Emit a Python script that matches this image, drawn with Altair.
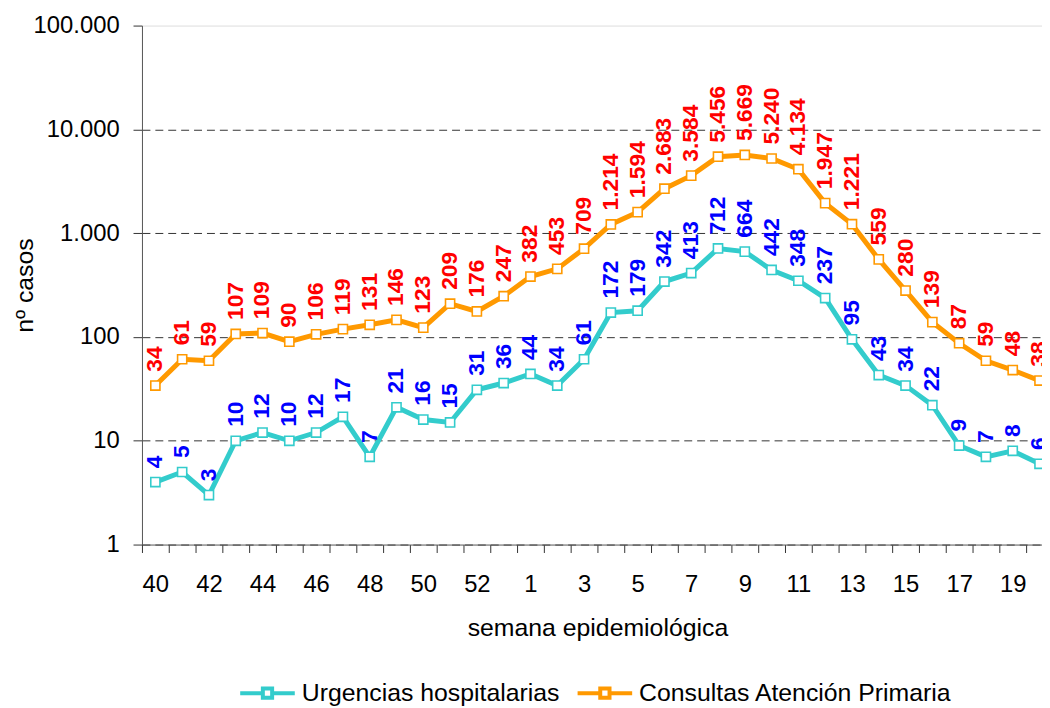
import altair as alt
import pandas as pd

# ---- data -------------------------------------------------------------
weeks = ["40", "41", "42", "43", "44", "45", "46", "47", "48", "49", "50", "51", "52", "53",
         "1", "2", "3", "4", "5", "6", "7", "8", "9", "10", "11", "12", "13", "14", "15",
         "16", "17", "18", "19", "20"]
x_tick_labels = ["40", "42", "44", "46", "48", "50", "52", "1", "3", "5", "7", "9",
                 "11", "13", "15", "17", "19"]

urgencias = [4, 5, 3, 10, 12, 10, 12, 17, 7, 21, 16, 15, 31, 36, 44, 34, 61, 172, 179,
             342, 413, 712, 664, 442, 348, 237, 95, 43, 34, 22, 9, 7, 8, 6]
primaria = [34, 61, 59, 107, 109, 90, 106, 119, 131, 146, 123, 209, 176, 247, 382, 453,
            709, 1214, 1594, 2683, 3584, 5456, 5669, 5240, 4134, 1947, 1221, 559, 280,
            139, 87, 59, 48, 38]

series_names = ["Urgencias hospitalarias", "Consultas Atención Primaria"]
line_colors = ["#33CCCC", "#FF9900"]
label_colors = ["#0000FF", "#FF0000"]

y_tick_values = [1, 10, 100, 1000, 10000, 100000]
y_tick_labels = ["1", "10", "100", "1.000", "10.000", "100.000"]


def fmt(v):
    return f"{v:,}".replace(",", ".")


rows = []
for name, vals in zip(series_names, [urgencias, primaria]):
    for w, v in zip(weeks, vals):
        rows.append({"semana": w, "serie": name, "casos": v, "etiqueta": fmt(v)})
df = pd.DataFrame(rows)

FONT = "Liberation Sans"

# ---- encodings --------------------------------------------------------
x_label_expr = "indexof([" + ",".join(f"'{s}'" for s in x_tick_labels) + "], datum.value) >= 0 ? datum.value : ''"
y_label_expr = " : ".join(f"datum.value == {v} ? '{l}'" for v, l in zip(y_tick_values, y_tick_labels)) + " : ''"

x_enc = alt.X(
    "semana:N",
    sort=weeks,
    scale=alt.Scale(type="band", range=[0, 918], paddingInner=0, paddingOuter=0),
    axis=alt.Axis(
        title="semana epidemiológica",
        labelExpr=x_label_expr,
        labelAngle=0,
        labelFontSize=24,
        labelColor="black",
        labelPadding=20,
        tickBand="extent",
        tickSize=8,
        tickColor="#333333",
        domainColor="#555555",
        grid=False,
        titleFontSize=25,
        titleFontWeight="normal",
        titleColor="black",
        titleX=459,
        titleY=92,
        titleBaseline="alphabetic",
    ),
)

y_enc = alt.Y(
    "casos:Q",
    scale=alt.Scale(type="log", domain=[1, 100000], nice=False),
    axis=alt.Axis(
        title="nº casos",
        values=y_tick_values,
        labelExpr=y_label_expr,
        labelFontSize=24,
        labelColor="black",
        labelPadding=14,
        tickSize=9,
        tickColor="#333333",
        domainColor="#555555",
        grid=True,
        gridColor={"condition": {"test": "datum.value > 50000", "value": "#DDDDDD"}, "value": "#333333"},
        gridDash={"condition": {"test": "datum.value > 50000", "value": []}, "value": [8, 5]},
        gridWidth=1,
        titleFontSize=25,
        titleFontWeight="normal",
        titleColor="black",
        titleX=-110,
        titleBaseline="alphabetic",
    ),
)

legend_symbol = "M-1,0H-0.17M0.17,0H1M-0.17,-0.17H0.17V0.17H-0.17Z"

color_enc = alt.Color(
    "serie:N",
    scale=alt.Scale(domain=series_names, range=line_colors),
    legend=alt.Legend(
        title=None,
        orient="none",
        legendX=97,
        legendY=643,
        direction="horizontal",
        symbolType=legend_symbol,
        symbolSize=3025,
        symbolStrokeWidth=4,
        symbolFillColor="white",
        symbolOpacity=1,
        labelFontSize=25,
        labelColor="black",
        labelOffset=5,
        columnPadding=10,
        labelLimit=0,
    ),
)

base = alt.Chart(df)

lines = base.mark_line(strokeWidth=5).encode(x=x_enc, y=y_enc, color=color_enc)
points = base.mark_point(shape="square", filled=False, fill="white", size=85,
                         strokeWidth=1.6, opacity=1).encode(x=x_enc, y=y_enc, color=color_enc)

texts = []
for name, col in zip(series_names, label_colors):
    texts.append(
        base.transform_filter(alt.datum.serie == name)
        .mark_text(angle=270, align="left", baseline="middle", dx=14, fontSize=23,
                   fontWeight="bold", color=col, font=FONT)
        .encode(x=x_enc, y=y_enc, text="etiqueta:N")
    )

chart = (
    alt.layer(lines, points, *texts)
    .properties(
        width=907,
        height=523,
        autosize=alt.AutoSizeParams(type="none"),
        padding={"left": 135, "top": 15, "right": 0, "bottom": 162},
    )
    .configure(font=FONT)
    .configure_view(stroke=None)
)

chart.save("out.html", embed_options={"renderer": "svg", "actions": False})
